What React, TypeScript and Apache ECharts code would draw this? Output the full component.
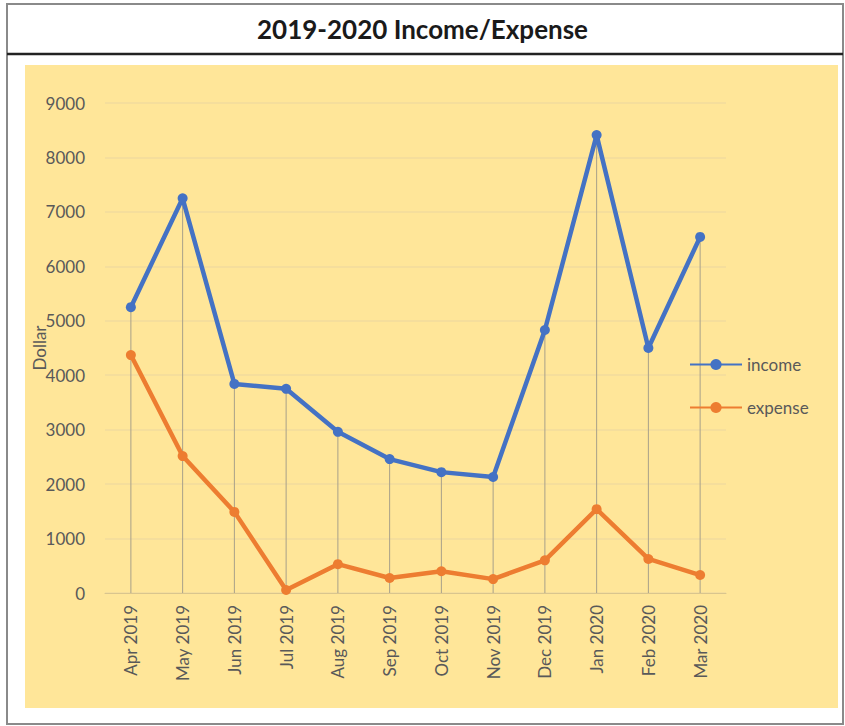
import React, { useEffect, useRef } from "react";
import * as echarts from "echarts";

const months = ["Apr 2019", "May 2019", "Jun 2019", "Jul 2019", "Aug 2019", "Sep 2019", "Oct 2019", "Nov 2019", "Dec 2019", "Jan 2020", "Feb 2020", "Mar 2020"];
const income = [5250, 7250, 3840, 3750, 2960, 2460, 2220, 2130, 4830, 8410, 4500, 6540];
const expense = [4370, 2515, 1490, 55, 530, 275, 400, 255, 600, 1540, 625, 330];
const dropTops = months.map((_, i) => Math.max(income[i], expense[i]));

const FONT = "Lato, 'Open Sans', sans-serif";
const TXT = "#595959";

export default function App() {
  const ref = useRef<HTMLDivElement>(null);
  useEffect(() => {
    const chart = echarts.init(ref.current!, null, { renderer: "svg" });
    chart.setOption({
      animation: false,
      backgroundColor: "#ffffff",
      textStyle: { fontFamily: FONT },
      graphic: [
        { type: "rect", z: -10, shape: { x: 7, y: 4, width: 836, height: 720 }, style: { fill: "#ffffff", stroke: "#8a8a8a", lineWidth: 2 } },
        { type: "line", z: -9, shape: { x1: 7, y1: 54, x2: 843, y2: 54 }, style: { stroke: "#222222", lineWidth: 2.5 } },
        { type: "rect", z: -9, shape: { x: 25, y: 65, width: 813, height: 643 }, style: { fill: "#FFE699" } },
        { type: "text", left: "center", top: 16, style: { text: "2019-2020 Income/Expense", font: `bold 26px ${FONT}`, fill: "#1a1a1a" } },
      ],
      grid: { left: 105, right: 119, top: 103, bottom: 133 },
      legend: {
        orient: "vertical",
        left: 684,
        top: 351,
        itemWidth: 52,
        itemHeight: 14,
        itemGap: 26,
        data: ["income", "expense"],
        textStyle: { color: TXT, fontSize: 17, fontFamily: FONT },
      },
      xAxis: {
        type: "category",
        data: months,
        boundaryGap: true,
        axisLine: { lineStyle: { color: "#d9c58e" } },
        axisTick: { show: false },
        axisLabel: { rotate: 90, color: TXT, fontSize: 17, margin: 12, fontFamily: FONT },
      },
      yAxis: {
        type: "value",
        min: 0,
        max: 9000,
        interval: 1000,
        name: "Dollar",
        nameLocation: "middle",
        nameGap: 57,
        nameMoveOverlap: false,
        nameTextStyle: { color: TXT, fontSize: 17, fontFamily: FONT },
        axisLine: { show: false },
        axisTick: { show: false },
        axisLabel: { color: TXT, fontSize: 17, margin: 20, fontFamily: FONT, formatter: (v: number) => String(v) },
        splitLine: { lineStyle: { color: "#F2DB9E", width: 1.5 } },
      },
      series: [
        {
          name: "drop",
          type: "bar",
          data: dropTops,
          barWidth: 1,
          itemStyle: { color: "#a8a08a" },
          silent: true,
          z: 1,
        },
        {
          name: "income",
          type: "line",
          data: income,
          symbol: "circle",
          symbolSize: 10,
          lineStyle: { color: "#4472C4", width: 4.5 },
          itemStyle: { color: "#4472C4" },
          z: 3,
        },
        {
          name: "expense",
          type: "line",
          data: expense,
          symbol: "circle",
          symbolSize: 10,
          lineStyle: { color: "#ED7D31", width: 4.5 },
          itemStyle: { color: "#ED7D31" },
          z: 3,
        },
      ],
    });
    return () => chart.dispose();
  }, []);
  return <div ref={ref} style={{ position: "absolute", left: 0, top: 0, width: 845, height: 726 }} />;
}
